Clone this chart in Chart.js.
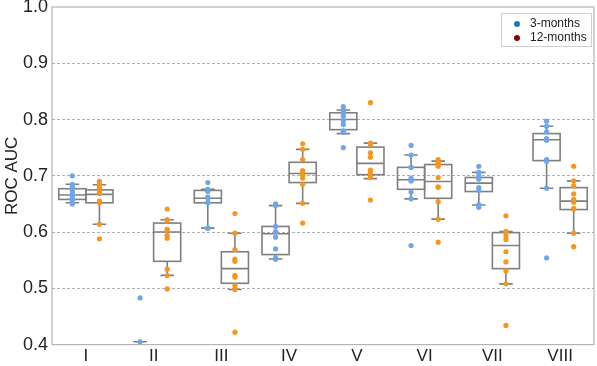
<!DOCTYPE html>
<html>
<head>
<meta charset="utf-8">
<script src="https://cdn.jsdelivr.net/npm/chart.js@4"></script>
<style>
  html, body { margin: 0; padding: 0; background: #fff; }
  #wrap { width: 597px; height: 366px; }
</style>
</head>
<body>
<div id="wrap"><canvas id="rocChart"></canvas></div>
<script>
// categories and labels
const categories = ['I', 'II', 'III', 'IV', 'V', 'VI', 'VII', 'VIII'];
const seriesNames = ['3-months', '12-months'];
const yTicks = [0.4, 0.5, 0.6, 0.7, 0.8, 0.9, 1.0];

// individual points, one list per category
const pts3 = [
  [0.700, 0.685, 0.681, 0.673, 0.668, 0.664, 0.660, 0.658, 0.657, 0.650],
  [0.483, 0.405],
  [0.688, 0.676, 0.675, 0.672, 0.662, 0.661, 0.653, 0.652, 0.607, 0.607],
  [0.650, 0.647, 0.610, 0.601, 0.591, 0.570, 0.554, 0.552, 0.552],
  [0.823, 0.817, 0.814, 0.811, 0.806, 0.798, 0.791, 0.780, 0.777, 0.750],
  [0.754, 0.737, 0.715, 0.715, 0.696, 0.691, 0.691, 0.671, 0.659, 0.576],
  [0.717, 0.706, 0.700, 0.697, 0.694, 0.679, 0.674, 0.649, 0.644],
  [0.797, 0.788, 0.778, 0.766, 0.764, 0.763, 0.729, 0.726, 0.678, 0.554]
];
const pts12 = [
  [0.690, 0.684, 0.678, 0.671, 0.669, 0.669, 0.655, 0.652, 0.614, 0.588],
  [0.641, 0.622, 0.620, 0.605, 0.604, 0.594, 0.589, 0.534, 0.523, 0.499],
  [0.633, 0.598, 0.569, 0.552, 0.548, 0.523, 0.520, 0.505, 0.498, 0.422],
  [0.757, 0.747, 0.729, 0.709, 0.709, 0.701, 0.696, 0.685, 0.651, 0.616],
  [0.830, 0.758, 0.756, 0.741, 0.733, 0.710, 0.704, 0.697, 0.657],
  [0.729, 0.724, 0.722, 0.717, 0.697, 0.680, 0.680, 0.654, 0.623, 0.582],
  [0.629, 0.601, 0.601, 0.594, 0.587, 0.565, 0.547, 0.531, 0.508, 0.434],
  [0.717, 0.691, 0.682, 0.668, 0.658, 0.653, 0.642, 0.641, 0.598, 0.574]
];

// box statistics
const q1_3  = [0.658, 0.360, 0.652, 0.560, 0.782, 0.676, 0.672, 0.727];
const med_3 = [0.666, 0.380, 0.660, 0.597, 0.800, 0.693, 0.687, 0.764];
const q3_3  = [0.677, 0.390, 0.674, 0.610, 0.812, 0.715, 0.697, 0.775];
const lo_3  = [0.652, 0.330, 0.607, 0.552, 0.775, 0.659, 0.648, 0.678];
const hi_3  = [0.685, 0.405, 0.676, 0.647, 0.817, 0.737, 0.706, 0.788];

const q1_12  = [0.652, 0.548, 0.509, 0.688, 0.702, 0.660, 0.535, 0.640];
const med_12 = [0.667, 0.600, 0.535, 0.704, 0.722, 0.690, 0.576, 0.655];
const q3_12  = [0.675, 0.616, 0.565, 0.724, 0.751, 0.720, 0.599, 0.679];
const lo_12  = [0.614, 0.523, 0.498, 0.651, 0.695, 0.623, 0.508, 0.598];
const hi_12  = [0.684, 0.622, 0.598, 0.747, 0.758, 0.726, 0.601, 0.691];

const pointColors = ['#6ea6ec', '#f7951c'];
const legendColors = ['#1f77b4', '#8b0000'];
const shift = [-0.2, 0.2];   // offset of each series inside a category
const boxHalf = 0.2, capHalf = 0.1;
const font = "'Liberation Sans', Arial, sans-serif";

function toPoints(lists, k) {
  const out = [];
  lists.forEach((vals, i) => vals.forEach(v => out.push({ x: i + 1 + shift[k], y: v })));
  return out;
}

const boxes = [
  { q1: q1_3, med: med_3, q3: q3_3, lo: lo_3, hi: hi_3 },
  { q1: q1_12, med: med_12, q3: q3_12, lo: lo_12, hi: hi_12 }
];

const boxPlugin = {
  id: 'boxes',
  beforeDatasetsDraw(chart) {
    const { ctx, chartArea: a, scales: { x, y } } = chart;
    ctx.save();
    ctx.beginPath();
    ctx.rect(a.left, a.top, a.right - a.left, a.bottom - a.top);
    ctx.clip();
    ctx.strokeStyle = '#7f7f7f';
    ctx.lineWidth = 1.6;
    boxes.forEach((b, k) => {
      categories.forEach((c, i) => {
        const cx = i + 1 + shift[k];
        const xl = x.getPixelForValue(cx - boxHalf), xr = x.getPixelForValue(cx + boxHalf);
        const xm = x.getPixelForValue(cx);
        const cl = x.getPixelForValue(cx - capHalf), cr = x.getPixelForValue(cx + capHalf);
        const yq1 = y.getPixelForValue(b.q1[i]), yq3 = y.getPixelForValue(b.q3[i]);
        const ym = y.getPixelForValue(b.med[i]);
        const ylo = y.getPixelForValue(b.lo[i]), yhi = y.getPixelForValue(b.hi[i]);
        ctx.strokeRect(xl, yq3, xr - xl, yq1 - yq3);
        ctx.beginPath();
        ctx.moveTo(xl, ym); ctx.lineTo(xr, ym);
        ctx.moveTo(xm, yq3); ctx.lineTo(xm, yhi);
        ctx.moveTo(xm, yq1); ctx.lineTo(xm, ylo);
        ctx.moveTo(cl, yhi); ctx.lineTo(cr, yhi);
        ctx.moveTo(cl, ylo); ctx.lineTo(cr, ylo);
        ctx.stroke();
      });
    });
    ctx.restore();
  },
  afterDraw(chart) {
    const { ctx, chartArea: a } = chart;
    ctx.save();
    // frame around the plot
    ctx.strokeStyle = '#b4b4b4';
    ctx.lineWidth = 1.2;
    ctx.strokeRect(a.left, a.top, a.right - a.left, a.bottom - a.top);
    // legend box in the upper right corner
    const lw = 90, lh = 33;
    const lx = a.right - 3 - lw, ly = a.top + 6;
    ctx.fillStyle = 'rgba(255,255,255,0.85)';
    ctx.fillRect(lx, ly, lw, lh);
    ctx.strokeStyle = '#cfcfcf';
    ctx.lineWidth = 1;
    ctx.strokeRect(lx + 0.5, ly + 0.5, lw, lh);
    ctx.font = '12px ' + font;
    ctx.textBaseline = 'middle';
    seriesNames.forEach((n, k) => {
      const yy = ly + 11 + k * 14;
      ctx.fillStyle = legendColors[k];
      ctx.beginPath();
      ctx.arc(lx + 16, yy, 3, 0, Math.PI * 2);
      ctx.fill();
      ctx.fillStyle = '#222';
      ctx.fillText(n, lx + 29, yy);
    });
    ctx.restore();
  }
};

new Chart(document.getElementById('rocChart'), {
  type: 'scatter',
  data: {
    datasets: seriesNames.map((name, k) => ({
      label: name,
      data: toPoints(k === 0 ? pts3 : pts12, k),
      backgroundColor: pointColors[k],
      borderWidth: 0,
      pointRadius: 2.6,
      pointHoverRadius: 2.6
    }))
  },
  options: {
    responsive: true,
    maintainAspectRatio: false,
    animation: false,
    layout: { padding: { top: 7, right: 3, bottom: -3, left: 2 } },
    plugins: {
      tooltip: { enabled: false },
      legend: { display: false }
    },
    scales: {
      x: {
        type: 'linear',
        min: 0.5,
        max: categories.length + 0.5,
        afterBuildTicks: s => { s.ticks = categories.map((c, i) => ({ value: i + 1 })); },
        afterFit: s => { s.paddingLeft = 0; s.paddingRight = 0; },
        ticks: {
          callback: v => categories[v - 1],
          font: { family: font, size: 17 },
          color: '#222',
          padding: 2,
          maxRotation: 0
        },
        grid: { display: false, drawTicks: false },
        border: { display: false }
      },
      y: {
        min: 0.4,
        max: 1.0,
        afterBuildTicks: s => { s.ticks = yTicks.map(v => ({ value: v })); },
        afterFit: s => { s.width = 50; s.paddingTop = 0; s.paddingBottom = 0; },
        ticks: {
          callback: v => v.toFixed(1),
          font: { family: font, size: 18 },
          color: '#222',
          padding: 4
        },
        title: {
          display: true,
          text: 'ROC AUC',
          font: { family: font, size: 17 },
          color: '#222',
          padding: 0
        },
        grid: {
          drawTicks: false,
          color: c => (c.tick && (c.tick.value <= 0.4 || c.tick.value >= 1.0)) ? 'rgba(0,0,0,0)' : '#9a9a9a',
          lineWidth: 0.8
        },
        border: { display: false, dash: [3, 2] }
      }
    }
  },
  plugins: [boxPlugin]
});
</script>
</body>
</html>
